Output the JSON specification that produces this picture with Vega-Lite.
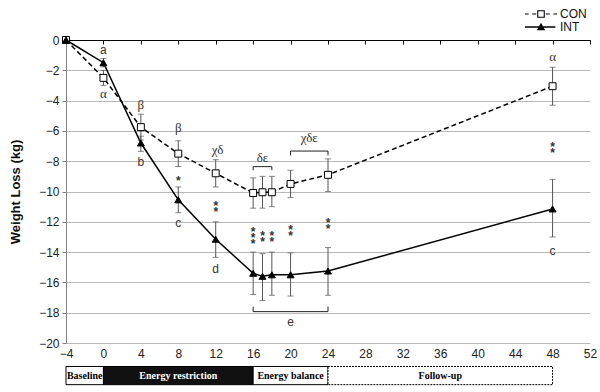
{
"$schema": "https://vega.github.io/schema/vega-lite/v6.json",
"width": 524,
"height": 303,
"autosize": "none",
"padding": {"left": 66, "top": 40, "right": 10, "bottom": 49},
"config": {"view": {"stroke": null}, "font": "Liberation Sans"},
"datasets": {
 "series": [
  {"series": "CON", "week": -4, "y": 0, "lo": null, "hi": null},
  {"series": "CON", "week": 0, "y": -2.5, "lo": -3.0, "hi": -2.0},
  {"series": "CON", "week": 4, "y": -5.75, "lo": -6.6, "hi": -4.9},
  {"series": "CON", "week": 8, "y": -7.5, "lo": -8.35, "hi": -6.65},
  {"series": "CON", "week": 12, "y": -8.8, "lo": -9.7, "hi": -7.9},
  {"series": "CON", "week": 16, "y": -10.1, "lo": -11.1, "hi": -9.1},
  {"series": "CON", "week": 17, "y": -10.05, "lo": -11.1, "hi": -9.0},
  {"series": "CON", "week": 18, "y": -10.05, "lo": -11.0, "hi": -9.0},
  {"series": "CON", "week": 20, "y": -9.5, "lo": -10.4, "hi": -8.6},
  {"series": "CON", "week": 24, "y": -8.9, "lo": -10.0, "hi": -7.85},
  {"series": "CON", "week": 48, "y": -3.05, "lo": -4.3, "hi": -1.8},
  {"series": "INT", "week": -4, "y": 0, "lo": null, "hi": null},
  {"series": "INT", "week": 0, "y": -1.5, "lo": -1.78, "hi": -1.22},
  {"series": "INT", "week": 4, "y": -6.8, "lo": -7.35, "hi": -6.35},
  {"series": "INT", "week": 8, "y": -10.55, "lo": -11.4, "hi": -9.7},
  {"series": "INT", "week": 12, "y": -13.15, "lo": -14.35, "hi": -12.0},
  {"series": "INT", "week": 16, "y": -15.4, "lo": -16.8, "hi": -14.0},
  {"series": "INT", "week": 17, "y": -15.6, "lo": -17.2, "hi": -14.1},
  {"series": "INT", "week": 18, "y": -15.5, "lo": -16.85, "hi": -14.0},
  {"series": "INT", "week": 20, "y": -15.5, "lo": -16.9, "hi": -14.05},
  {"series": "INT", "week": 24, "y": -15.25, "lo": -16.85, "hi": -13.7},
  {"series": "INT", "week": 48, "y": -11.15, "lo": -13.0, "hi": -9.2}
 ],
 "greek": [
  {"week": 0, "y": -3.56, "label": "α"},
  {"week": 4, "y": -4.3, "label": "β"},
  {"week": 8, "y": -5.8, "label": "β"},
  {"week": 12.2, "y": -7.26, "label": "χδ"},
  {"week": 17, "y": -7.8, "label": "δε"},
  {"week": 22, "y": -6.5, "label": "χδε"},
  {"week": 48, "y": -1.14, "label": "α"}
 ],
 "latin": [
  {"week": 0, "y": -0.66, "label": "a"},
  {"week": 4, "y": -8.03, "label": "b"},
  {"week": 8, "y": -12.06, "label": "c"},
  {"week": 12, "y": -15.1, "label": "d"},
  {"week": 20, "y": -18.6, "label": "e"},
  {"week": 48, "y": -13.9, "label": "c"}
 ],
 "stars": [
  {"week": 8, "y": -9.13, "label": "*"},
  {"week": 12, "y": -10.76, "label": "*\n*"},
  {"week": 16, "y": -12.5, "label": "*\n*\n*"},
  {"week": 17, "y": -12.72, "label": "*\n*"},
  {"week": 18, "y": -12.72, "label": "*\n*"},
  {"week": 20, "y": -12.32, "label": "*\n*"},
  {"week": 24, "y": -11.88, "label": "*\n*"},
  {"week": 48, "y": -6.86, "label": "*\n*"}
 ],
 "brackets": [
  {"x1": 16, "x2": 18, "y1": -8.36, "y2": -8.36},
  {"x1": 16, "x2": 16, "y1": -8.36, "y2": -8.6},
  {"x1": 18, "x2": 18, "y1": -8.36, "y2": -8.6},
  {"x1": 20, "x2": 24, "y1": -7.33, "y2": -7.33},
  {"x1": 20, "x2": 20, "y1": -7.33, "y2": -7.62},
  {"x1": 24, "x2": 24, "y1": -7.33, "y2": -7.62},
  {"x1": 16, "x2": 24, "y1": -17.93, "y2": -17.93},
  {"x1": 16, "x2": 16, "y1": -17.93, "y2": -17.6},
  {"x1": 24, "x2": 24, "y1": -17.93, "y2": -17.6}
 ],
 "phases": [
  {"phase": "Baseline", "start": -4, "end": 0},
  {"phase": "Energy restriction", "start": 0, "end": 16},
  {"phase": "Energy balance", "start": 16, "end": 24},
  {"phase": "Follow-up", "start": 24, "end": 48}
 ]
},
"layer": [
 {
  "layer": [
   {
    "data": {"name": "series"},
    "transform": [{"filter": "datum.series === 'INT'"}],
    "mark": {"type": "line", "color": "#000", "strokeWidth": 1.5},
    "encoding": {
     "x": {"field": "week", "type": "quantitative",
      "scale": {"domain": [-4, 52], "nice": false, "zero": false},
      "axis": {"orient": "bottom", "values": [-4,0,4,8,12,16,20,24,28,32,36,40,44,48,52], "tickCount": 40, "format": "d", "labelOverlap": false, "labelFlush": false, "domain": false, "ticks": false, "grid": false, "labelFont": "Liberation Sans", "labelFontSize": 12, "labelColor": "#222", "labelPadding": 5, "title": null}},
     "y": {"field": "y", "type": "quantitative",
      "scale": {"domain": [-20, 0], "nice": false, "zero": false},
      "axis": {"values": [-20,-18,-16,-14,-12,-10,-8,-6,-4,-2,0], "tickCount": 40, "format": "d", "labelOverlap": false, "labelFlush": false, "domain": true, "domainColor": "#808080", "tickColor": "#808080", "tickSize": 4, "grid": true, "gridColor": "#b8b8b8", "labelFont": "Liberation Sans", "labelFontSize": 12, "labelColor": "#222", "labelPadding": 3, "title": "Weight Loss (kg)", "titleFont": "Liberation Sans", "titleFontSize": 13, "titleFontWeight": "bold", "titleColor": "#111", "titlePadding": 16}},
     "order": {"field": "week"}
    }
   },
   {
    "data": {"name": "phases"},
    "transform": [{"filter": "datum.phase !== 'Follow-up'"}],
    "mark": {"type": "rect", "stroke": "#000", "strokeWidth": 1},
    "encoding": {
     "x": {"field": "start", "type": "quantitative", "title": null},
     "x2": {"field": "end"},
     "y": {"datum": -21.55, "type": "quantitative"},
     "y2": {"datum": -22.75},
     "fill": {"condition": {"test": "datum.phase === 'Energy restriction'", "value": "#111"}, "value": "#fff"}
    }
   },
   {
    "data": {"name": "phases"},
    "transform": [{"filter": "datum.phase === 'Follow-up'"}],
    "mark": {"type": "rect", "stroke": "#000", "strokeWidth": 1, "strokeDash": [2, 1], "fill": "#fff"},
    "encoding": {
     "x": {"field": "start", "type": "quantitative", "title": null},
     "x2": {"field": "end"},
     "y": {"datum": -21.55, "type": "quantitative"},
     "y2": {"datum": -22.75}
    }
   },
   {
    "data": {"name": "phases"},
    "transform": [{"calculate": "(datum.start + datum.end) / 2", "as": "mid"}],
    "mark": {"type": "text", "font": "Liberation Sans Narrow", "fontSize": 10, "fontWeight": "bold", "baseline": "middle", "align": "center"},
    "encoding": {
     "x": {"field": "mid", "type": "quantitative", "title": null},
     "y": {"datum": -22.15, "type": "quantitative"},
     "text": {"field": "phase"},
     "color": {"condition": {"test": "datum.phase === 'Energy restriction'", "value": "#fff"}, "value": "#000"}
    }
   },
   {
    "data": {"name": "series"},
    "transform": [{"filter": "datum.lo !== null"}],
    "mark": {"type": "errorbar", "ticks": {"size": 6, "color": "#555"}, "rule": {"color": "#555", "strokeWidth": 1}},
    "encoding": {
     "x": {"field": "week", "type": "quantitative", "title": null},
     "y": {"field": "lo", "type": "quantitative", "title": "Weight Loss (kg)"},
     "y2": {"field": "hi"},
     "detail": {"field": "series"}
    }
   },
   {
    "data": {"name": "series"},
    "transform": [{"filter": "datum.series === 'CON'"}],
    "mark": {"type": "line", "color": "#000", "strokeWidth": 1.5, "strokeDash": [5, 3]},
    "encoding": {
     "x": {"field": "week", "type": "quantitative", "title": null},
     "y": {"field": "y", "type": "quantitative", "title": "Weight Loss (kg)"},
     "order": {"field": "week"}
    }
   },
   {
    "data": {"name": "series"},
    "mark": {"type": "point", "filled": true, "stroke": "#000", "strokeWidth": 1, "size": 48, "opacity": 1},
    "encoding": {
     "x": {"field": "week", "type": "quantitative", "title": null},
     "y": {"field": "y", "type": "quantitative", "title": "Weight Loss (kg)"},
     "fill": {"condition": {"test": "datum.series === 'CON'", "value": "#fff"}, "value": "#000"},
     "shape": {"field": "series", "type": "nominal",
      "scale": {"domain": ["CON", "INT"], "range": ["square", "triangle-up"]},
      "legend": null}
    }
   },
   {
    "data": {"name": "series"},
    "transform": [{"filter": "datum.week === -4"}],
    "mark": {"type": "point", "filled": true, "color": "#000", "strokeWidth": 0, "opacity": 0},
    "encoding": {
     "x": {"field": "week", "type": "quantitative", "title": null},
     "y": {"field": "y", "type": "quantitative", "title": "Weight Loss (kg)"},
     "shape": {"field": "series", "type": "nominal",
      "scale": {"domain": ["CON", "INT"], "range": [
       "M-4,-0.15H-3.1V0.15H-4ZM-2.2,-0.15H-1.2V0.15H-2.2ZM1.2,-0.15H2.2V0.15H1.2ZM3.1,-0.15H4V0.15H3.1ZM-0.95,-0.95H0.95V0.95H-0.95ZM-0.68,-0.68V0.68H0.68V-0.68Z",
       "M-4,-0.16H3.6V0.16H-4ZM0,-1.05L1.05,0.8H-1.05Z"]},
      "legend": {"title": null, "orient": "none", "legendX": 469, "legendY": -32, "padding": 0, "symbolSize": 64, "symbolOpacity": 1, "symbolFillColor": "#000", "symbolStrokeWidth": 0, "labelOffset": 13, "rowPadding": 1, "labelFont": "Liberation Sans", "labelFontSize": 12, "labelColor": "#111"}}
    }
   },
   {
    "data": {"name": "brackets"},
    "mark": {"type": "rule", "color": "#222", "strokeWidth": 1},
    "encoding": {
     "x": {"field": "x1", "type": "quantitative", "title": null},
     "x2": {"field": "x2"},
     "y": {"field": "y1", "type": "quantitative", "title": "Weight Loss (kg)"},
     "y2": {"field": "y2"}
    }
   },
   {
    "data": {"name": "greek"},
    "mark": {"type": "text", "font": "Liberation Serif", "fontSize": 13, "baseline": "middle", "align": "center", "color": "#333"},
    "encoding": {
     "x": {"field": "week", "type": "quantitative", "title": null},
     "y": {"field": "y", "type": "quantitative", "title": "Weight Loss (kg)"},
     "text": {"field": "label"}
    }
   },
   {
    "data": {"name": "latin"},
    "mark": {"type": "text", "font": "Liberation Sans", "fontSize": 12, "baseline": "middle", "align": "center", "color": "#333"},
    "encoding": {
     "x": {"field": "week", "type": "quantitative", "title": null},
     "y": {"field": "y", "type": "quantitative", "title": "Weight Loss (kg)"},
     "text": {"field": "label"}
    }
   },
   {
    "data": {"name": "stars"},
    "mark": {"type": "text", "font": "Liberation Sans", "fontSize": 12, "fontWeight": "bold", "baseline": "middle", "align": "center", "color": "#333", "lineBreak": "\n", "lineHeight": 6, "dy": 3},
    "encoding": {
     "x": {"field": "week", "type": "quantitative", "title": null},
     "y": {"field": "y", "type": "quantitative", "title": "Weight Loss (kg)"},
     "text": {"field": "label"}
    }
   }
  ],
  "resolve": {"scale": {"shape": "independent"}}
 },
 {
  "data": {"values": [{"week": -4}]},
  "mark": {"type": "point", "opacity": 0},
  "encoding": {
   "x": {"field": "week", "type": "quantitative",
    "axis": {"orient": "top", "values": [-4,0,4,8,12,16,20,24,28,32,36,40,44,48,52], "tickCount": 40, "labels": false, "domain": true, "domainColor": "#000", "domainWidth": 1, "ticks": true, "tickColor": "#000", "tickSize": -4, "grid": false, "title": null}},
   "y": {"datum": 0, "type": "quantitative", "title": "Weight Loss (kg)"}
  }
 }
],
"resolve": {"axis": {"x": "independent"}}
}
